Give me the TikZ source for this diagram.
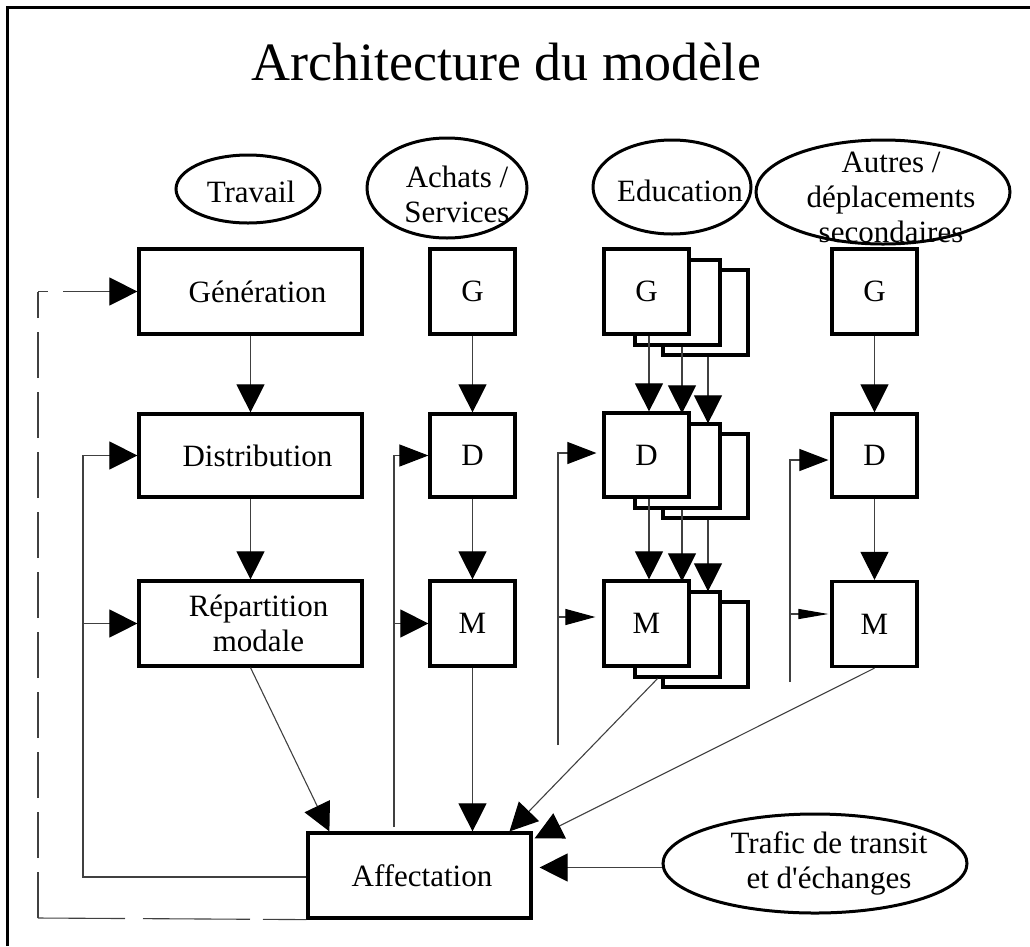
\documentclass[tikz,border=0pt]{standalone}
\usepackage{fontspec}
\newfontfamily\serif{Liberation Serif}
\usetikzlibrary{arrows.meta,shapes.geometric}
\begin{document}
\begin{tikzpicture}[x=1pt,y=-1pt,
  font=\serif\fontsize{31}{35}\selectfont,
  box/.style={draw, line width=3.2pt, fill=white, inner sep=0pt, minimum width=85pt, minimum height=85pt},
  wide/.style={box, minimum width=223pt},
  oval/.style={draw, ellipse, line width=3pt, inner sep=0pt},
  lbl/.style={align=center, inner sep=0pt},
  conn/.style={draw=black!75, line width=1.1pt},
  dline/.style={draw=black!75, line width=1.1pt},
  tipA/.style={-{Triangle[length=28pt,width=28pt,color=black]}},
  tipB/.style={-{Triangle[length=29pt,width=22pt,color=black]}},
  tipC/.style={-{Triangle[length=30pt,width=16pt,color=black]}},
  tipD/.style={-{Triangle[length=30pt,width=10pt,color=black]}},
]
\useasboundingbox (0,0) rectangle (1030,946);
% frame (top and left edges)
\coordinate (fr1) at (7,946);
\coordinate (fr2) at (7,7);
\coordinate (fr3) at (1030,7);
\draw[line width=3pt] (fr1) -- (fr2) -- (fr3);

% title
\node[anchor=base, inner sep=0pt, font=\serif\fontsize{54}{60}\selectfont] (title) at (506,80) {Architecture du modèle};

% ellipses
\node[oval, minimum width=144pt, minimum height=68pt] (trav) at (248,189) {};
\node[lbl] (travT) at ([shift={(3,3)}]trav) {Travail};
\node[oval, minimum width=160pt, minimum height=100pt] (ach) at (447,188) {};
\node[lbl] (achT) at ([shift={(10,6)}]ach) {Achats /\\Services};
\node[oval, minimum width=158pt, minimum height=94pt] (edu) at (672,187) {};
\node[lbl] (eduT) at ([shift={(8,4)}]edu) {Education};
\node[oval, minimum width=254pt, minimum height=104pt] (aut) at (883,192) {};
\node[lbl] (autT) at ([shift={(8,5)}]aut) {Autres /\\déplacements\\secondaires};
\node[oval, minimum width=304pt, minimum height=99pt] (traf) at (815,863.5) {};
\node[lbl] (trafT) at ([xshift=14pt]traf) {Trafic de transit\\et d'échanges};

% Travail column
\node[wide] (gen) at (250.5,291.5) {\hspace*{14pt}Génération};
\node[wide, minimum height=83pt] (dist) at (250.5,455.5) {\hspace*{14pt}Distribution};
\node[wide, align=center] (rep) at (250.5,623.5) {\raisebox{-3pt}{\hspace*{16pt}Répartition}\\\raisebox{-3pt}{\hspace*{16pt}modale}};

% Achats column
\node[box] (aG) at (472.5,291.5) {G};
\node[box, minimum height=83pt] (aD) at (472.5,455.5) {D};
\node[box] (aM) at (472.5,623.5) {M};

% Education column (stacks)
\node[box] (eG3) at (705.5,312.5) {};
\node[box] (eG2) at (677.5,302.5) {};
\node[box] (eG1) at (646.5,291.5) {G};
\node[box, minimum height=84pt] (eD3) at (705.5,476) {};
\node[box, minimum height=84pt] (eD2) at (677.5,466) {};
\node[box, minimum height=84pt] (eD1) at (646.5,455) {D};
\node[box] (eM3) at (705.5,644.5) {};
\node[box] (eM2) at (677.5,634.5) {};
\node[box] (eM1) at (646.5,623.5) {M};

% Autres column
\node[box] (oG) at (874.5,291.5) {G};
\node[box, minimum height=83pt] (oD) at (874.5,455.5) {D};
\node[box] (oM) at (874.5,624) {M};

% Affectation
\node[wide] (aff) at (419.5,875.5) {\hspace*{5pt}Affectation};

% Travail connectors
\draw[conn, tipA] (gen) -- (dist);
\draw[conn, tipA] (dist) -- (rep);
\draw[conn, tipA] (rep.south) -- ([xshift=23pt]aff.north west);

% Achats connectors
\draw[conn, tipA] (aG) -- (aD);
\draw[conn, tipA] (aD) -- (aM);
\draw[conn, tipA] (aM.south) -- (aM.south |- aff.north);

% Education connectors
\draw[conn, tipA] ([xshift=2.5pt]eG1.south) -- ([xshift=2.5pt]eD1.north);
\draw[conn, tipA] ([xshift=4.5pt]eG2.south) -- ([shift={(4.5,-9)}]eD2.north);
\draw[conn, tipA] ([xshift=2.5pt]eG3.south) -- ([shift={(2.5,-9)}]eD3.north);
\draw[conn, tipA] ([xshift=2.5pt]eD1.south) -- ([xshift=2.5pt]eM1.north);
\draw[conn, tipA] ([xshift=4.5pt]eD2.south) -- ([shift={(4.5,-9)}]eM2.north);
\draw[conn, tipA] ([xshift=2.5pt]eD3.south) -- ([shift={(2.5,-9)}]eM3.north);
\draw[conn, tipA] ([xshift=-20pt]eM2.south) -- ([xshift=90pt]aff.north);

% Autres connectors
\draw[conn, tipA] (oG) -- (oD);
\draw[conn, tipA] (oD) -- (oM);
\draw[conn, tipA] (oM.south) -- ([shift={(2,7)}]aff.north east);

% Trafic
\draw[conn, tipA] ([yshift=-4pt]traf.west) -- ([xshift=7pt,yshift=-4pt]aff.east |- traf.west);

% feedback: Travail
\coordinate (fbL) at (83,455.5);
\draw[conn, tipA] ([yshift=-1.5pt]aff.west) -| (fbL) -- (dist.west);
\draw[conn, tipA] (fbL |- rep.west) -- (rep.west);

% feedback: Achats
\coordinate (aBot) at (394,827);
\draw[conn, tipB] (aBot) |- (aD.west);
\draw[conn, tipA] (aBot |- aM.west) -- (aM.west);

% feedback: Education
\coordinate (eBot) at (558,745);
\coordinate (eDin) at ([shift={(-6,-2)}]eD1.west);
\coordinate (eMin) at ([shift={(-7,-6.5)}]eM1.west);
\draw[conn, tipB] (eBot) |- (eDin);
\draw[conn, tipC] (eBot |- eMin) -- (eMin);

% feedback: Autres
\coordinate (oBot) at (790,682);
\coordinate (oDin) at ([shift={(-2,4.5)}]oD.west);
\coordinate (oMin) at ([shift={(-2,-10)}]oM.west);
\draw[conn, tipB] (oBot) |- (oDin);
\draw[conn, tipD] (oBot |- oMin) -- (oMin);

% dashed loop to Génération
\coordinate (dBL) at (38,918);
\coordinate (dTL) at (38,291.5);
\draw[dline, dash pattern=on 87pt off 18pt on 107pt off 13pt on 60pt] (dBL) -- (aff.south west);
\draw[dline, dash pattern=on 46pt off 14pt] (dBL) -- (dTL);
\draw[dline, dash pattern=on 10pt off 15pt on 200pt, tipA] (dTL) -- (gen.west);
\end{tikzpicture}
\end{document}
